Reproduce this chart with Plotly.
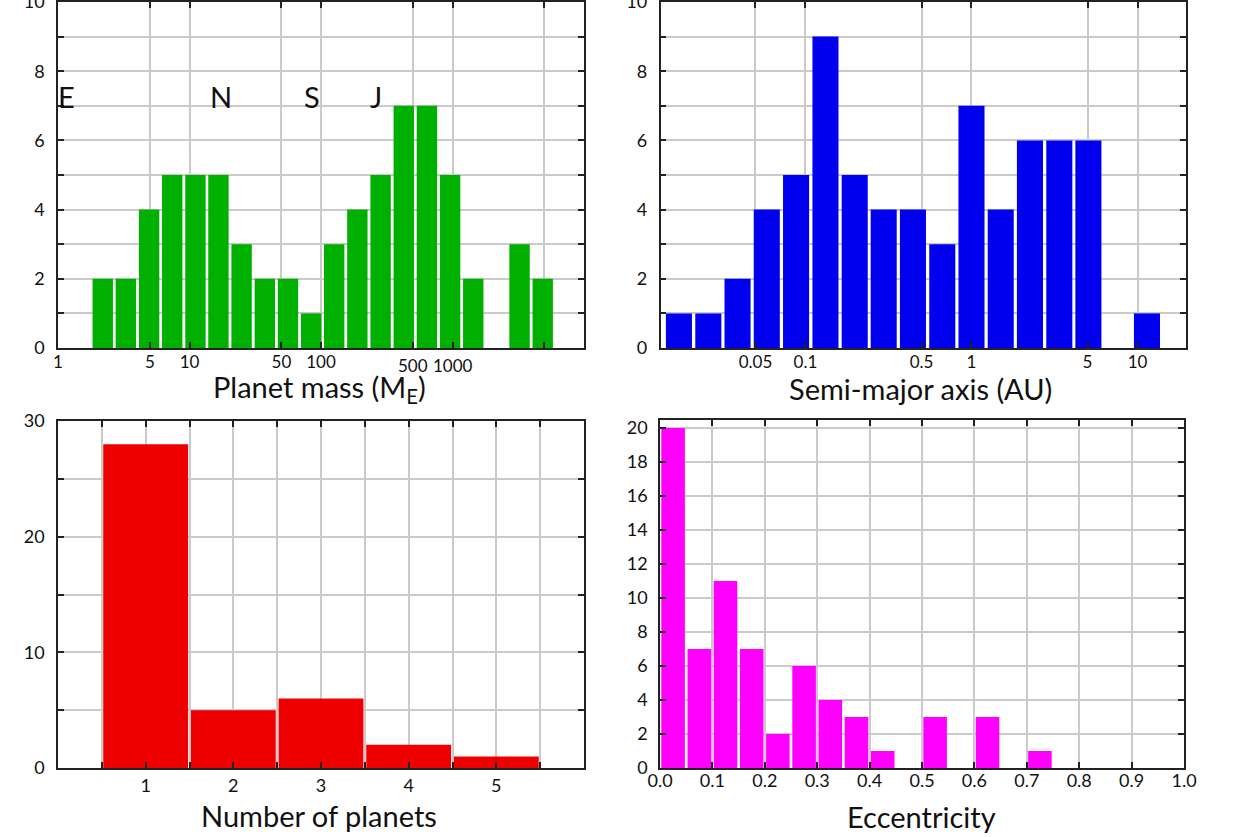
import numpy as np
import plotly.graph_objects as go

# ---------------- data ----------------
# Panel 1: planet mass histogram (logarithmic bins)
mass_bin_centers = [2.19, 3.28, 4.93, 7.39, 11.1, 16.6, 24.9, 37.4, 56.1, 84.2,
                    126, 189, 284, 426, 639, 959, 1438, 2157, 3236, 4854]
mass_counts = [2, 2, 4, 5, 5, 5, 3, 2, 2, 1, 3, 4, 5, 7, 7, 5, 2, 0, 3, 2]
mass_ticks = [1, 5, 10, 50, 100, 500, 1000, 5000]
mass_ticklabels = ["1", "5", "10", "50", "100", "", "", ""]
mass_low_labels = ["500", "1000"]          # drawn slightly lower, as in the original
mass_low_label_pos = [500, 1000]
planet_letters = ["E", "N", "S", "J"]
planet_letter_mass = [1.17, 17.5, 86, 264]
planet_letter_y = 7.27

# Panel 2: semi-major axis histogram (logarithmic bins)
sma_bin_centers = [0.0173, 0.026, 0.039, 0.0585, 0.0878, 0.132, 0.198, 0.296, 0.444,
                   0.667, 1.0, 1.5, 2.25, 3.38, 5.06, 7.59, 11.4]
sma_counts = [1, 1, 2, 4, 5, 9, 5, 4, 4, 3, 7, 4, 6, 6, 6, 0, 1]
sma_ticks = [0.05, 0.1, 0.5, 1, 5, 10]
sma_ticklabels = ["0.05", "0.1", "0.5", "1", "5", "10"]

# Panel 3: number of planets per system
n_planets = [1, 2, 3, 4, 5]
n_systems = [28, 5, 6, 2, 1]

# Panel 4: eccentricity histogram (bins of 0.05)
ecc_bin_centers = [0.025, 0.075, 0.125, 0.175, 0.225, 0.275, 0.325, 0.375, 0.425, 0.475,
                   0.525, 0.575, 0.625, 0.675, 0.725, 0.775, 0.825, 0.875, 0.925, 0.975]
ecc_counts = [20, 7, 11, 7, 2, 6, 4, 3, 1, 0, 3, 0, 3, 0, 1, 0, 0, 0, 0, 0]
ecc_ticks = [0.0, 0.1, 0.2, 0.3, 0.4, 0.5, 0.6, 0.7, 0.8, 0.9, 1.0]

# ---------------- style ----------------
W, H = 1236, 837
FONT = "Lato"
GREEN = "#00B000"
BLUE = "#0000EE"
RED = "#EE0000"
MAGENTA = "#FF00FF"
GRID = "#CACACA"
AXIS = "#222222"
TXT = "#111111"


def px_x(a, b):
    return [a / W, b / W]


def px_y(top, bottom):
    return [1 - bottom / H, 1 - top / H]


fig = go.Figure()

fig.add_trace(go.Bar(x=np.log10(mass_bin_centers), y=mass_counts, width=0.155,
                     marker=dict(color=GREEN, line=dict(width=0)),
                     xaxis="x", yaxis="y", hoverinfo="skip"))
fig.add_trace(go.Bar(x=np.log10(sma_bin_centers), y=sma_counts, width=0.157,
                     marker=dict(color=BLUE, line=dict(width=0)),
                     xaxis="x2", yaxis="y2", hoverinfo="skip"))
fig.add_trace(go.Bar(x=n_planets, y=n_systems, width=0.968,
                     marker=dict(color=RED, line=dict(width=0)),
                     xaxis="x3", yaxis="y3", hoverinfo="skip"))
fig.add_trace(go.Bar(x=ecc_bin_centers, y=ecc_counts, width=0.045,
                     marker=dict(color=MAGENTA, line=dict(width=0)),
                     xaxis="x4", yaxis="y4", hoverinfo="skip"))

common = dict(showline=True, linecolor=AXIS, linewidth=1.5, mirror="ticks",
              ticks="inside", ticklen=6, tickwidth=1.5, tickcolor=AXIS,
              showgrid=True, gridcolor=GRID, gridwidth=1.5, zeroline=False,
              automargin=False, ticklabeloverflow="allow",
              tickfont=dict(family=FONT, size=18, color=TXT))

top_dom = px_y(2, 348)
bot_dom = px_y(421, 768)
even_lbl = [str(v) if v % 2 == 0 else "" for v in range(0, 11)]

layout = dict(
    width=W, height=H, margin=dict(l=0, r=0, t=0, b=0, pad=0),
    paper_bgcolor="white", plot_bgcolor="white", showlegend=False,
    font=dict(family=FONT, color=TXT),
    xaxis=dict(common, domain=px_x(58, 584), range=[0, 4.0], anchor="y",
               tickmode="array", tickvals=np.log10(mass_ticks), ticktext=mass_ticklabels,
               tickfont=dict(family=FONT, size=17, color=TXT), ticklabelstandoff=-2),
    yaxis=dict(common, domain=top_dom, range=[0, 10], anchor="x",
               tickmode="array", tickvals=list(range(0, 11)), ticktext=even_lbl,
               ticklabelstandoff=8),
    xaxis2=dict(common, domain=px_x(660.5, 1186), range=[-1.873, 1.292], anchor="y2",
                tickmode="array", tickvals=np.log10(sma_ticks), ticktext=sma_ticklabels,
                tickfont=dict(family=FONT, size=17, color=TXT), ticklabelstandoff=-2),
    yaxis2=dict(common, domain=top_dom, range=[0, 10], anchor="x2",
                tickmode="array", tickvals=list(range(0, 11)), ticktext=even_lbl,
                ticklabelstandoff=8),
    xaxis3=dict(common, domain=px_x(58, 584), range=[0, 6.0], anchor="y3",
                tickmode="array", tickvals=[0.5, 1, 1.5, 2, 2.5, 3, 3.5, 4, 4.5, 5, 5.5],
                ticktext=["", "1", "", "2", "", "3", "", "4", "", "5", ""],
                ticklabelstandoff=1),
    yaxis3=dict(common, domain=bot_dom, range=[0, 30], anchor="x3",
                tickmode="array", tickvals=[0, 5, 10, 15, 20, 25, 30],
                ticktext=["0", "", "10", "", "20", "", "30"],
                ticklabelstandoff=8),
    xaxis4=dict(common, domain=px_x(660, 1184), range=[0, 1.0], anchor="y4",
                tickmode="array", tickvals=ecc_ticks,
                ticktext=[f"{v:.1f}" for v in ecc_ticks], ticklabelstandoff=-4),
    yaxis4=dict(common, domain=px_y(420, 768), range=[0, 20.47], anchor="x4",
                tickmode="array", tickvals=list(range(0, 21, 2)),
                ticktext=[str(v) for v in range(0, 21, 2)],
                ticklabelstandoff=7),
)
fig.update_layout(**layout)

ann = []
# planet letters
for txt, m in zip(planet_letters, planet_letter_mass):
    ann.append(dict(x=np.log10(m), y=planet_letter_y, xref="x", yref="y", text=txt,
                    showarrow=False, xanchor="center", yanchor="middle",
                    font=dict(family=FONT, size=29, color=TXT)))
# lowered tick labels 500 / 1000
for txt, m in zip(mass_low_labels, mass_low_label_pos):
    ann.append(dict(x=np.log10(m), y=1 - 365 / H, xref="x", yref="paper", text=txt,
                    showarrow=False, xanchor="center", yanchor="middle",
                    font=dict(family=FONT, size=17, color=TXT)))
# axis titles
titles = [("Planet mass (M<sub>E</sub>)", 319, 388),
          ("Semi-major axis (AU)", 920, 388),
          ("Number of planets", 319, 815),
          ("Eccentricity", 921, 816)]
for txt, cx, cy in titles:
    ann.append(dict(x=cx / W, y=1 - cy / H, xref="paper", yref="paper", text=txt,
                    showarrow=False, xanchor="center", yanchor="middle",
                    font=dict(family=FONT, size=29, color=TXT)))
fig.update_layout(annotations=ann)

fig.write_html("out.html", config={"displayModeBar": False},
               post_script="document.body.style.margin='0';document.body.style.overflow='hidden';")
